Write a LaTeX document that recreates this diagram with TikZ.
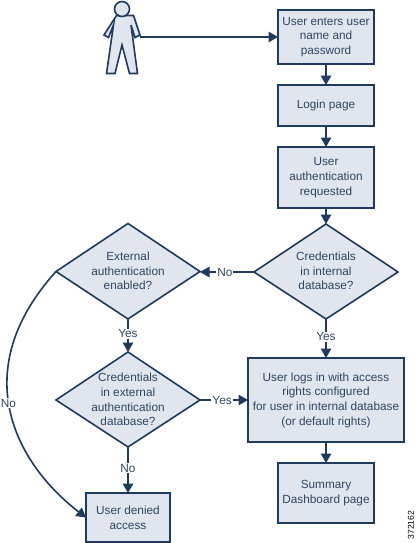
\documentclass[tikz,border=0pt]{standalone}
\usepackage{fontspec}
\usetikzlibrary{arrows.meta}
\setmainfont{Liberation Sans}
\definecolor{edgeblue}{HTML}{1F3A5F}
\definecolor{fillblue}{HTML}{E1E6EE}
\definecolor{txtblue}{HTML}{2F4563}
\begin{document}
\begin{tikzpicture}[x=1pt,y=-1pt,
  tipstyle/.style={line width=1.6pt,draw=edgeblue,-{Triangle[length=9.5pt,width=10.5pt]}},
  boxnode/.style={draw=edgeblue,line width=1.6pt,fill=fillblue,text=txtblue,align=center,font=\fontsize{11.8}{14.7}\selectfont,inner sep=0pt,outer sep=0pt},
  decision/.style={draw=edgeblue,line width=1.6pt,fill=fillblue,line join=miter},
  txt/.style={text=txtblue,align=center,font=\fontsize{11.8}{14.7}\selectfont,inner sep=0pt},
  lab/.style={text=txtblue,font=\fontsize{11.8}{13}\selectfont,inner sep=1pt,fill=white}]
\useasboundingbox (0,0) rectangle (417,543);
\fill[white] (0,0) rectangle (417,543);
% person
\draw[decision] (116.5,15.5) -- (133.5,15.5) -- (140,35) -- (135,37.5) -- (131,25) -- (137.5,73.5) -- (129.5,73.5) -- (122,45) -- (115,73.5) -- (106.5,73.5) -- (113.5,25) -- (108.5,37.5) -- (104,35) -- cycle;
\node[draw=edgeblue,line width=1.6pt,fill=fillblue,circle,minimum size=15pt,inner sep=0pt] (head) at (122,9) {};
\coordinate (hand) at (140,37);
% boxes
\node[boxnode,minimum width=96pt,minimum height=54pt] (enter) at (326,37) {User enters user\\name and\\password};
\node[boxnode,minimum width=96pt,minimum height=41pt] (login) at (326,105.5) {Login page};
\node[boxnode,minimum width=96pt,minimum height=61pt] (req) at (326,177.5) {User\\authentication\\requested};
\node[boxnode,minimum width=156pt,minimum height=84pt] (logs) at (326,400) {User logs in with access\\rights configured\\for user in internal database\\(or default rights)};
\node[boxnode,minimum width=96pt,minimum height=60pt] (summary) at (326,493) {Summary\\Dashboard page};
\node[boxnode,minimum width=84pt,minimum height=49pt] (denied) at (128,517.5) {User denied\\access};
% diamonds
\draw[decision] (326,224) -- (398,272) -- (326,319) -- (254,272) -- cycle;
\node[txt] (cint) at (326,271) {Credentials\\in internal\\database?};
\draw[decision] (128,223.5) -- (200,271.5) -- (128,319) -- (56,271.5) -- cycle;
\node[txt] (ext) at (128,271) {External\\authentication\\enabled?};
\draw[decision] (128,352) -- (200,400) -- (128,447) -- (56,400) -- cycle;
\node[txt] (cext) at (128,399.5) {Credentials\\in external\\authentication\\database?};
\coordinate (intT) at (326,224); \coordinate (intL) at (254,272); \coordinate (intB) at (326,319);
\coordinate (extR) at (200,272); \coordinate (extL) at (56,271.5); \coordinate (extB) at (128,319);
\coordinate (cextT) at (128,352); \coordinate (cextR) at (200,400); \coordinate (cextB) at (128,447);
% connectors
\draw[tipstyle] (hand) -- (enter.west |- hand);
\draw[tipstyle] (enter.south) -- (login.north);
\draw[tipstyle] (login.south) -- (req.north);
\draw[tipstyle] (req.south) -- (intT);
\draw[tipstyle] (intL) -- node[lab,pos=.54]{No} (extR);
\draw[tipstyle] (intB) -- node[lab,pos=.46]{Yes} (logs.north);
\draw[tipstyle] (extB) -- node[lab,pos=.45]{Yes} (cextT);
\draw[tipstyle] (cextR) -- node[lab,pos=.46]{Yes} (logs.west |- cextR);
\draw[tipstyle] (cextB) -- node[lab,pos=.46]{No} (denied.north);
\draw[tipstyle] (logs.south) -- (summary.north);
\draw[tipstyle] (extL) .. controls (-33,370) and (14,462) .. (denied.west);
\node[lab] (nolab) at (8.5,403) {No};
\node[text=black,rotate=90,font=\fontsize{8.5}{10}\selectfont,inner sep=0pt] (id) at (411,525) {372162};
\end{tikzpicture}
\end{document}
